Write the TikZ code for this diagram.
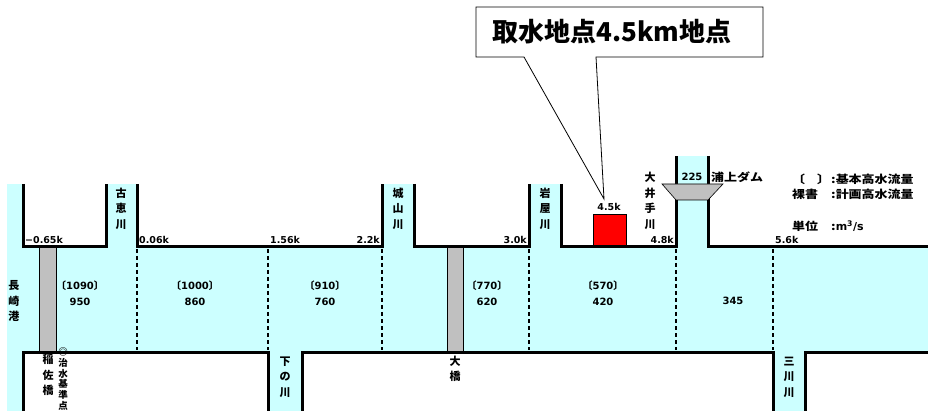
\documentclass[tikz,border=0pt]{standalone}
\usepackage{fontspec}
\setmainfont{DejaVu Sans}
\newfontfamily\jp{Noto Sans CJK JP}
\newfontfamily\jpwide{Noto Sans CJK JP}[FakeStretch=1.18]
\definecolor{water}{HTML}{CCFFFF}
\definecolor{pier}{HTML}{C0C0C0}
\definecolor{intake}{HTML}{FF0000}
\begin{document}
\begin{tikzpicture}[x=1pt,y=-1pt,
  wall/.style={line width=3pt},
  sect/.style={line width=1.3pt, dash pattern=on 4pt off 3pt},
  km/.style={font=\fontsize{9.5}{10}\selectfont\bfseries, inner sep=0pt},
  vlab/.style={font=\jp\fontsize{11}{15.5}\selectfont\bfseries, align=center, inner sep=0pt},
  vsmall/.style={font=\jp\fontsize{9.5}{10.8}\selectfont\bfseries, align=center, inner sep=0pt},
  flow/.style={font=\fontsize{10}{16}\selectfont\bfseries, align=center, inner sep=0pt},
  legend/.style={font=\jpwide\fontsize{11}{12}\selectfont\bfseries, inner sep=0pt, anchor=west},
]
\useasboundingbox (0,0) rectangle (928,411);
% water
\fill[water] (7,184) rectangle (23,411);
\fill[water] (7,247) rectangle (928,352);
\fill[water] (106,184) rectangle (137,247);
\fill[water] (382,184) rectangle (414,247);
\fill[water] (529,184) rectangle (561,247);
\fill[water] (676,156) rectangle (708,247);
\fill[water] (268,352) rectangle (302,411);
\fill[water] (773,352) rectangle (805,411);
% bridges
\draw[fill=pier, line width=0.8pt] (39,247) rectangle (56,352);
\draw[fill=pier, line width=0.8pt] (447,247) rectangle (463,352);
% section lines
\foreach \x in {137,268,382,529,676,773} \draw[sect] (\x,249) -- (\x,350);
% intake
\draw[fill=intake, line width=0.8pt] (593,214) rectangle (626,247);
% walls
\draw[wall] (23,184) -- (23,247) -- (106,247) -- (106,184);
\draw[wall] (137,184) -- (137,247) -- (382,247) -- (382,184);
\draw[wall] (414,184) -- (414,247) -- (529,247) -- (529,184);
\draw[wall] (561,184) -- (561,247) -- (676,247) -- (676,156);
\draw[wall] (708,156) -- (708,247) -- (928,247);
\draw[wall] (23,411) -- (23,352) -- (268,352) -- (268,411);
\draw[wall] (302,411) -- (302,352) -- (773,352) -- (773,411);
\draw[wall] (805,411) -- (805,352) -- (928,352);
% dam
\draw[fill=pier, line width=0.6pt] (662,184) -- (723,184) -- (708,200) -- (676,200) -- cycle;
% callout
\coordinate (tip) at (604,199);
\draw[fill=white, line width=0.8pt] (476,7) -- (763,7) -- (763,57) -- (596,57) -- (tip) -- (524,57) -- (476,57) -- cycle;
\node[font=\jp\fontsize{26}{27}\selectfont\bfseries, anchor=west, inner sep=0pt] (title) at (492,32) {取水地点4.5km地点};
% km labels
\node[km, anchor=base west] (k1) at (25,244) {−0.65k};
\node[km, anchor=base west] (k2) at (139,244) {0.06k};
\node[km, anchor=base west] (k3) at (270,244) {1.56k};
\node[km, anchor=base east] (k4) at (380,244) {2.2k};
\node[km, anchor=base east] (k5) at (527,244) {3.0k};
\node[km, anchor=base] (k6) at (609,211) {4.5k};
\node[km, anchor=base east] (k7) at (674,244) {4.8k};
\node[km, anchor=base west] (k8) at (775,244) {5.6k};
% flows
\node[flow] (f1) at (80,293) {{\jp〔}1090{\jp〕}\\950};
\node[flow] (f2) at (195,293) {{\jp〔}1000{\jp〕}\\860};
\node[flow] (f3) at (325,293) {{\jp〔}910{\jp〕}\\760};
\node[flow] (f4) at (487,293) {{\jp〔}770{\jp〕}\\620};
\node[flow] (f5) at (603,293) {{\jp〔}570{\jp〕}\\420};
\node[flow] (f6) at (733,301) {345};
\node[flow] (f7) at (692,177) {225};
\node[legend] (dam) at (711,177) {浦上ダム};
% vertical names
\node[vlab] (n1) at (14,301) {長\\崎\\港};
\node[vlab] (n2) at (48,375) {稲\\佐\\橋};
\node[vsmall] (n3) at (63,379) {◎\\治\\水\\基\\準\\点};
\node[vlab] (n4) at (121,208.5) {古\\恵\\川};
\node[vlab] (n5) at (285,377) {下\\の\\川};
\node[vlab] (n6) at (398,208.5) {城\\山\\川};
\node[vlab] (n7) at (455,369) {大\\橋};
\node[vlab] (n8) at (545,208.5) {岩\\屋\\川};
\node[vlab] (n9) at (789,377) {三\\川\\川};
\node[vlab] (n10) at (650,201) {大\\井\\手\\川};
% legend
\node[legend] (l1) at (792,179) {〔\hspace{12pt}〕};
\node[legend] (l2) at (831,179) {:基本高水流量};
\node[legend] (l3) at (792,194) {裸書};
\node[legend] (l4) at (831,194) {:計画高水流量};
\node[legend] (l5) at (792,226) {単位};
\node[legend] (l6) at (831,226) {:{\fontspec{DejaVu Sans}\bfseries m\textsuperscript{3}/s}};
\end{tikzpicture}
\end{document}
